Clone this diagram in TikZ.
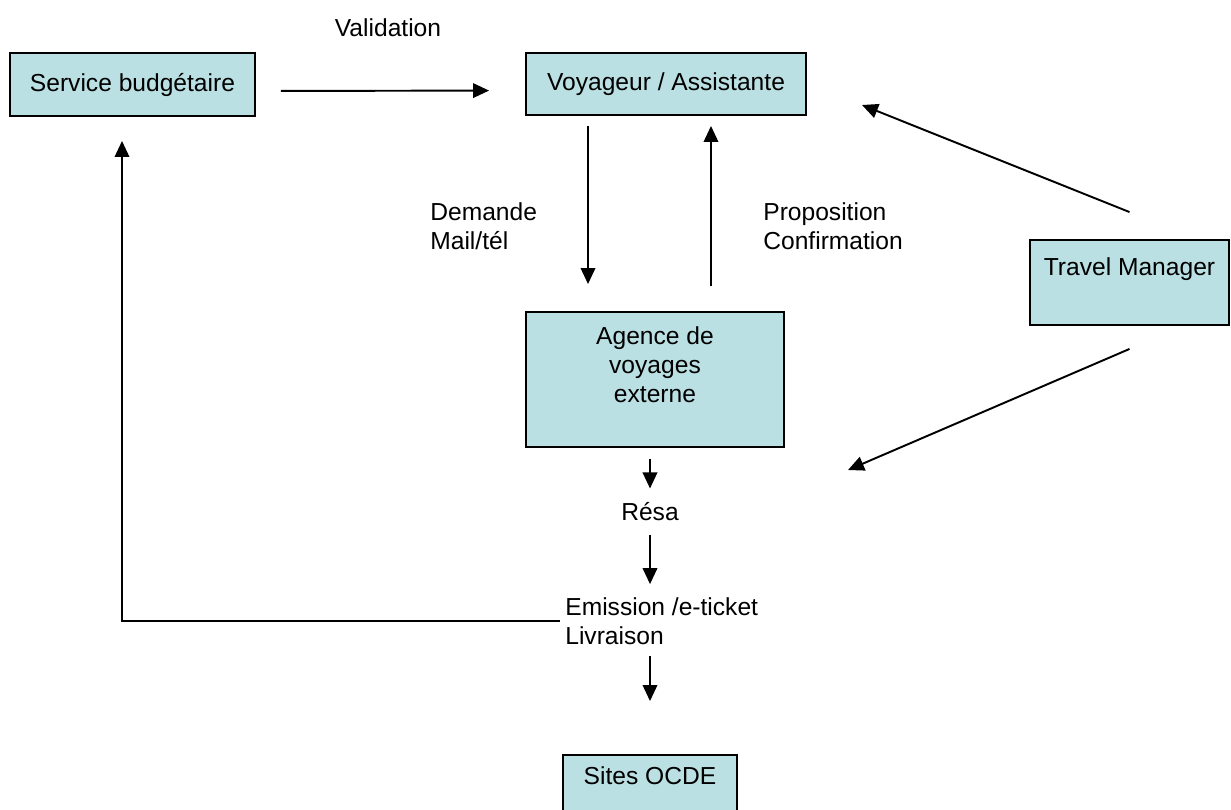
\documentclass[tikz,border=0pt]{standalone}
\usepackage{fontspec}
\setmainfont{Liberation Sans}
\usetikzlibrary{arrows.meta}
\definecolor{boxcyan}{RGB}{187,224,227}
\begin{document}
\begin{tikzpicture}
        [x=0.02cm, y=-0.02cm,
        box/.style={rectangle, draw, line width=1.1pt, fill=boxcyan, align=center, inner sep=0pt, font=\fontsize{14}{16.5}\selectfont},
        txt/.style={align=left, inner sep=0pt, font=\fontsize{14}{16.5}\selectfont},
        arr/.style={line width=1.1pt, -{Triangle[length=0.32cm, width=0.29cm]}}]
        \useasboundingbox (0,0) rectangle (1231,809);
        \node[box, minimum width=4.9cm, minimum height=1.26cm] (sb) at (132.5,84.5) {Service budgétaire};
        \node[box, minimum width=5.6cm, minimum height=1.24cm] (va) at (666,84) {Voyageur / Assistante};
        \node[box, minimum width=5.16cm, minimum height=2.7cm] (ag) at (655,379.5) {Agence de\\voyages\\externe\\\mbox{}};
        \node[box, minimum width=3.98cm, minimum height=1.7cm] (tm) at (1129.5,282.5) {Travel Manager\\[2pt]\mbox{}};
        \node[box, minimum width=3.48cm, minimum height=1.4cm] (so) at (650,790) {Sites OCDE\\\mbox{}};
        
        \node[txt] (val) at (388,28) {Validation};
        \node[txt, anchor=west] (dem) at (430,226) {Demande\\Mail/tél};
        \node[txt, anchor=west] (prop) at (763,226) {Proposition\\Confirmation};
        \node[txt] (resa) at (650,512) {Résa};
        \node[txt, anchor=west] (em) at (565,621) {Emission /e-ticket\\Livraison};
        \coordinate (tmtop) at (862,105);
        \coordinate (tmbot) at (848,470);
        
        \draw[arr, shorten <=0.5cm, shorten >=0.72cm] ([yshift=-0.13cm]sb.east) -- ([yshift=-0.13cm]va.west);
        \draw[arr, shorten <=0.2cm, shorten >=0.54cm] ([xshift=-1.56cm]va.south) -- ([xshift=-1.56cm]va.south |- ag.north);
        \draw[arr, shorten <=0.5cm, shorten >=0.2cm] ([xshift=1.12cm]ag.north) -- ([xshift=1.12cm]ag.north |- va.south);
        \draw[arr] ([yshift=0.54cm]tm.north) -- (tmtop);
        \draw[arr] ([yshift=-0.46cm]tm.south) -- (tmbot);
        \draw[arr, shorten <=0.22cm, shorten >=0.28cm] (ag.south -| resa) -- (resa.north);
        \draw[arr, shorten <=0.26cm, shorten >=0.26cm] (resa.south) -- (resa.south |- em.north);
        \draw[arr, shorten <=0.1cm, shorten >=0.48cm] (em.west) -| ([xshift=-0.21cm]sb.south);
        \draw[arr, shorten <=0.22cm, shorten >=1.06cm] (so.north |- em.south) -- (so.north);
    \end{tikzpicture}
\end{document}
